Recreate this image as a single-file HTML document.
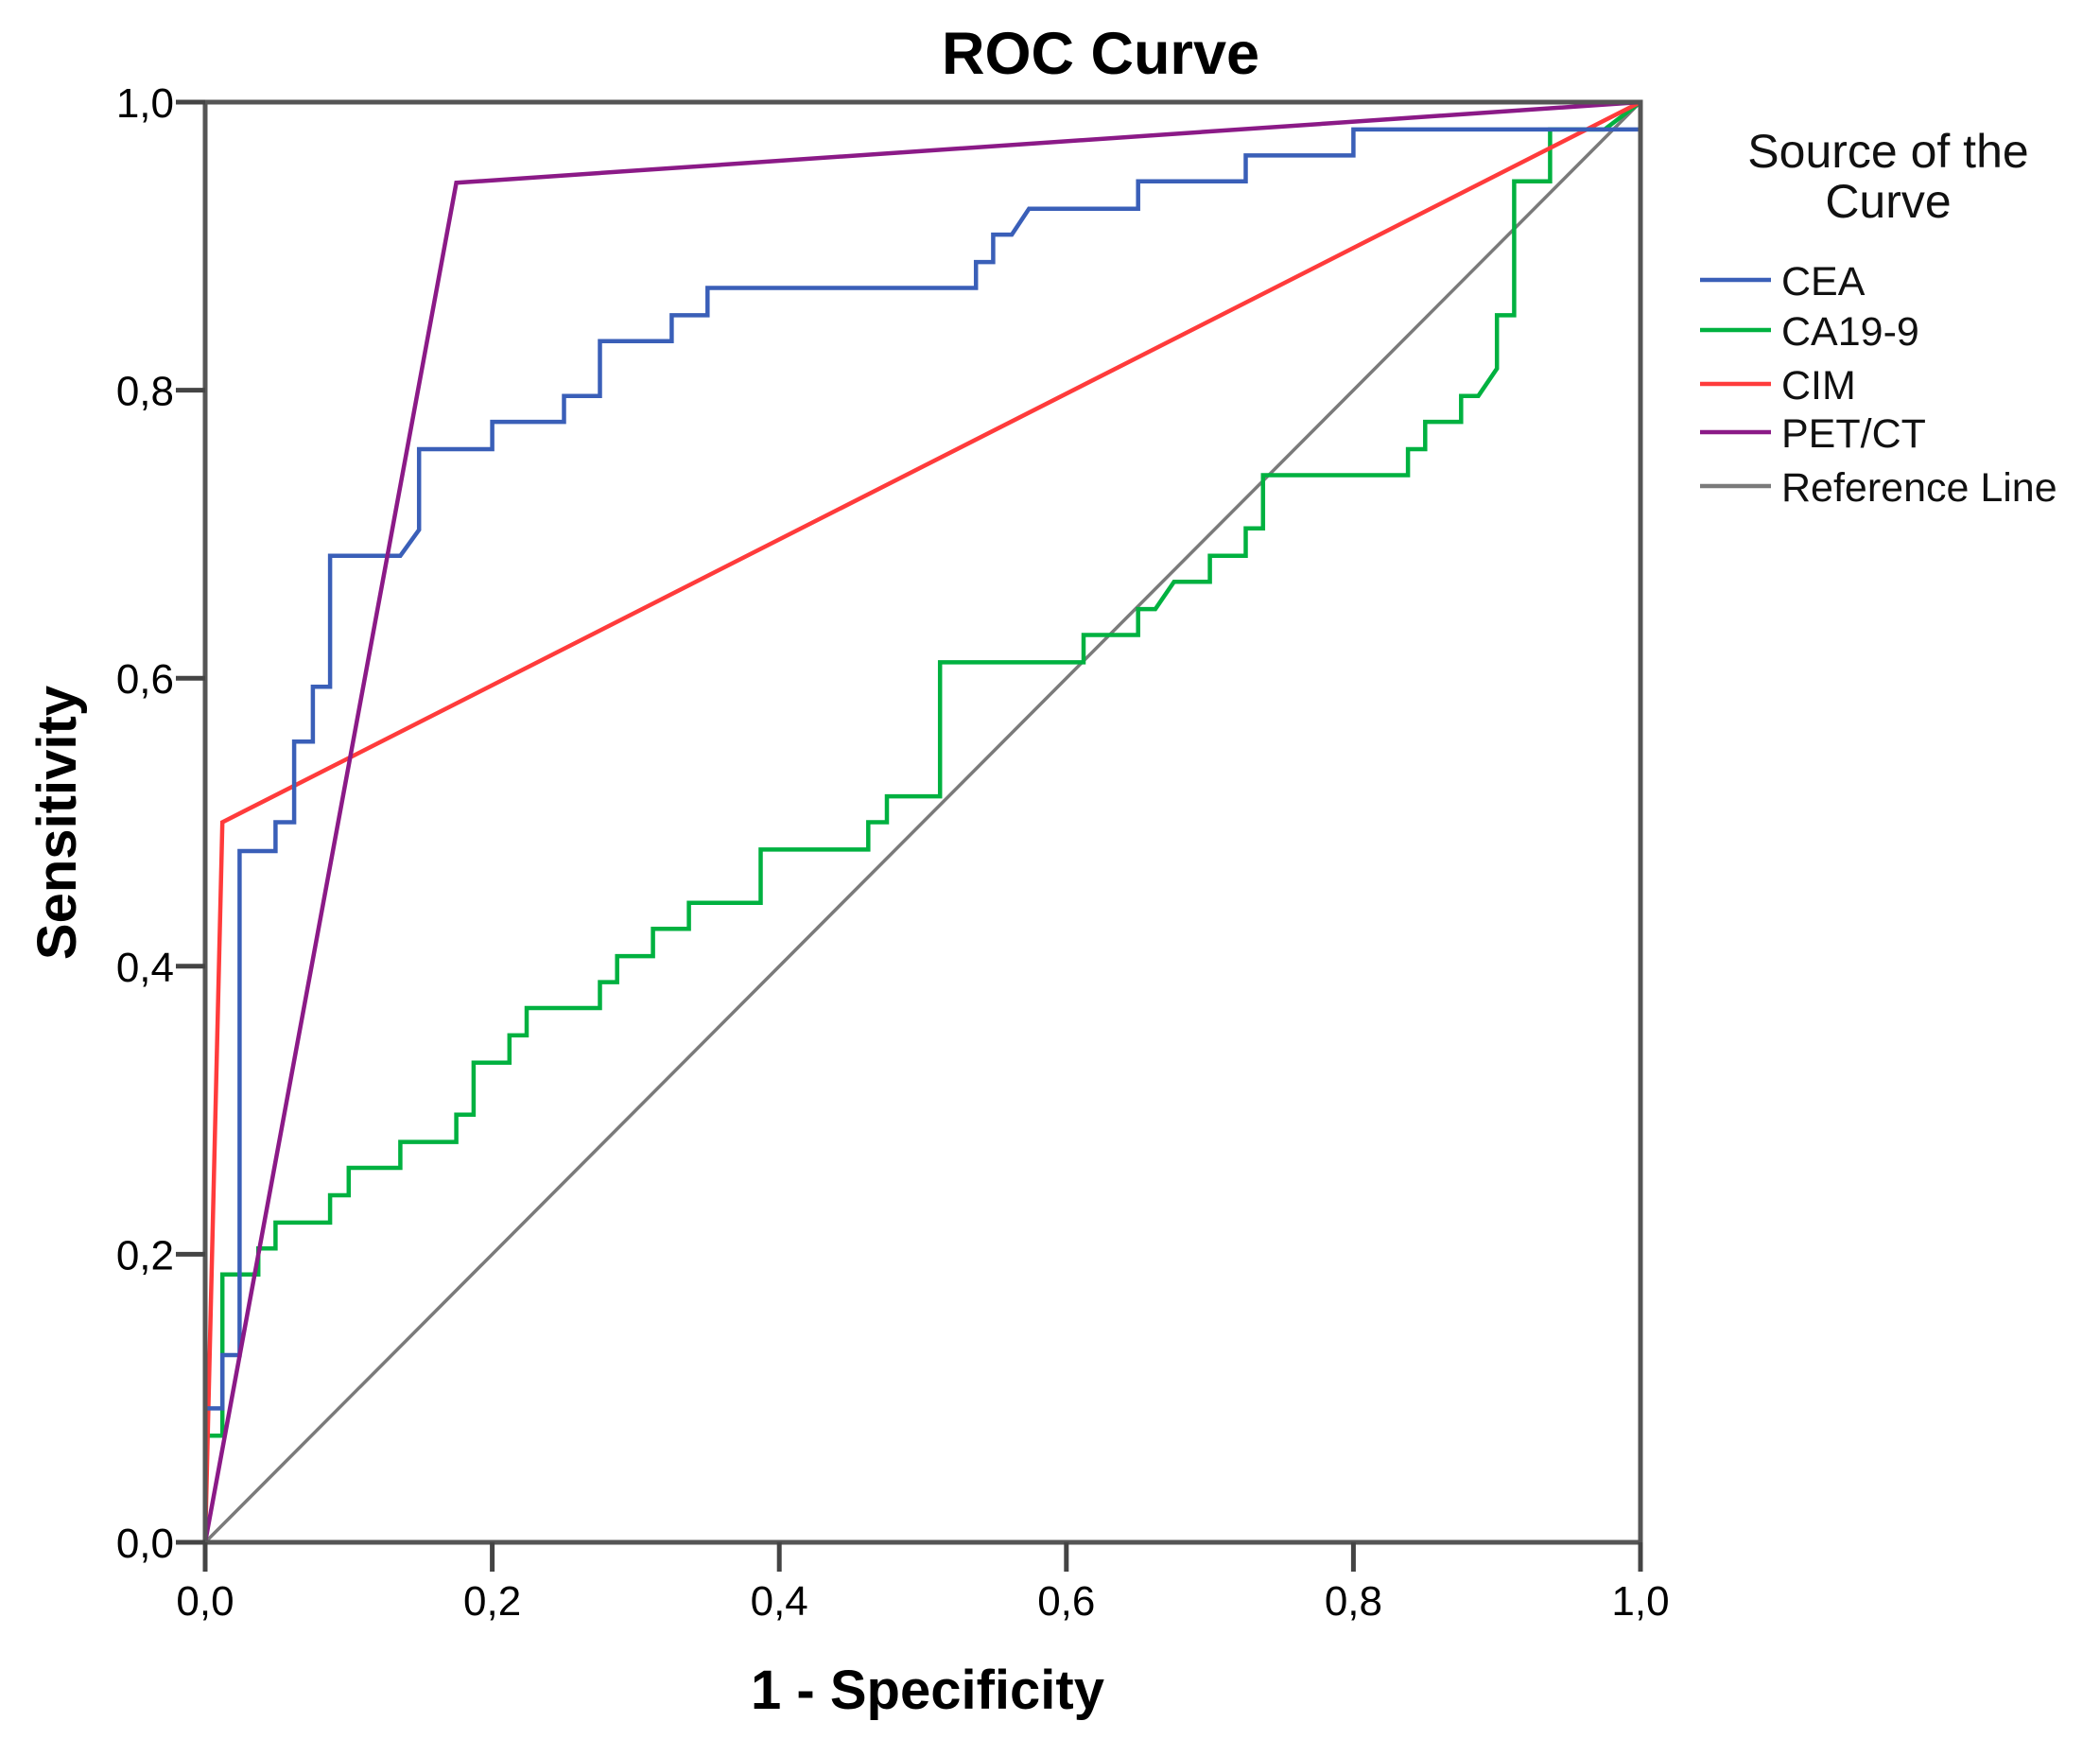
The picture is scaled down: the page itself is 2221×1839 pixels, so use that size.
<!DOCTYPE html>
<html><head><meta charset="utf-8"><style>
html,body{margin:0;padding:0;background:#fff;}
svg{display:block;font-family:"Liberation Sans",sans-serif;}
</style></head><body>
<svg id="chart" width="2221" height="1839" viewBox="0 0 2221 1839" xmlns="http://www.w3.org/2000/svg">
<rect width="2221" height="1839" fill="#fff"/>
<text x="1164" y="78" font-size="63" font-weight="bold" text-anchor="middle" fill="#000">ROC Curve</text>
<g id="plot"></g>
<g id="axes"></g>
<text x="981" y="1807" font-size="58" font-weight="bold" text-anchor="middle" fill="#000">1 - Specificity</text>
<text transform="translate(80,870) rotate(-90)" font-size="58" font-weight="bold" text-anchor="middle" fill="#000">Sensitivity</text>
<g id="legend">
<text x="1997" y="177" font-size="50" text-anchor="middle" fill="#111">Source of the</text>
<text x="1997" y="230" font-size="50" text-anchor="middle" fill="#111">Curve</text>
</g>
</svg>
<script>
const NS="http://www.w3.org/2000/svg";
const xTicks=[0,0.2,0.4,0.6,0.8,1.0];
const yTicks=[0,0.2,0.4,0.6,0.8,1.0];
const tickLabels=["0,0","0,2","0,4","0,6","0,8","1,0"];
const seriesNames=["CEA","CA19-9","CIM","PET/CT","Reference Line"];
const seriesColors=["#3a5fb8","#00b140","#ff3b3b","#8b1a87","#7a7a7a"];
const ceaX=[0,0,0.012,0.012,0.024,0.024,0.049,0.049,0.062,0.062,0.075,0.075,0.087,0.087,0.136,0.149,0.149,0.2,0.2,0.25,0.25,0.275,0.275,0.325,0.325,0.35,0.35,0.537,0.537,0.549,0.549,0.562,0.574,0.65,0.65,0.725,0.725,0.8,0.8,1.0,1.0];
const ceaY=[0,0.093,0.093,0.13,0.13,0.48,0.48,0.5,0.5,0.556,0.556,0.594,0.594,0.685,0.685,0.703,0.759,0.759,0.778,0.778,0.796,0.796,0.834,0.834,0.852,0.852,0.871,0.871,0.889,0.889,0.908,0.908,0.926,0.926,0.945,0.945,0.963,0.963,0.981,0.981,1.0];
const caX=[0,0,0.012,0.012,0.037,0.037,0.049,0.049,0.087,0.087,0.1,0.1,0.136,0.136,0.175,0.175,0.187,0.187,0.212,0.212,0.224,0.224,0.275,0.275,0.287,0.287,0.312,0.312,0.337,0.337,0.387,0.387,0.462,0.462,0.475,0.475,0.512,0.512,0.612,0.612,0.65,0.65,0.662,0.675,0.7,0.7,0.725,0.725,0.737,0.737,0.838,0.838,0.85,0.85,0.875,0.875,0.887,0.9,0.9,0.912,0.912,0.937,0.937,0.975,1.0];
const caY=[0,0.074,0.074,0.186,0.186,0.204,0.204,0.222,0.222,0.241,0.241,0.26,0.26,0.278,0.278,0.297,0.297,0.333,0.333,0.352,0.352,0.371,0.371,0.389,0.389,0.407,0.407,0.426,0.426,0.444,0.444,0.481,0.481,0.5,0.5,0.518,0.518,0.611,0.611,0.63,0.63,0.648,0.648,0.667,0.667,0.685,0.685,0.704,0.704,0.741,0.741,0.759,0.759,0.778,0.778,0.796,0.796,0.815,0.852,0.852,0.945,0.945,0.981,0.981,1.0];
const cimX=[0,0.012,1.0];
const cimY=[0,0.5,1.0];
const petX=[0,0.175,1.0];
const petY=[0,0.944,1.0];
const refX=[0,1];
const refY=[0,1];

const X0=217,X1=1735,Y0=1631,Y1=108;
function sx(v){return X0+v*(X1-X0);}
function sy(v){return Y0-v*(Y0-Y1);}
const plot=document.getElementById('plot');
const axes=document.getElementById('axes');

function line(xs,ys,color,name,w){
  const p=document.createElementNS(NS,'polyline');
  p.setAttribute('points',xs.map((x,i)=>sx(x).toFixed(1)+','+sy(ys[i]).toFixed(1)).join(' '));
  p.setAttribute('fill','none');p.setAttribute('stroke',color);p.setAttribute('stroke-width',w);
  p.setAttribute('stroke-linejoin','miter');
  
  
  plot.appendChild(p);
}
line(refX,refY,seriesColors[4],'reference-line',3.5);
line(caX,caY,seriesColors[1],'ca19-9-curve',4.5);
line(cimX,cimY,seriesColors[2],'cim-curve',4.5);
line(ceaX,ceaY,seriesColors[0],'cea-curve',4.5);
line(petX,petY,seriesColors[3],'pet-ct-curve',4.5);

const fr=document.createElementNS(NS,'rect');
fr.setAttribute('x',X0);fr.setAttribute('y',Y1);fr.setAttribute('width',X1-X0);fr.setAttribute('height',Y0-Y1);
fr.setAttribute('fill','none');fr.setAttribute('stroke','#555');fr.setAttribute('stroke-width',5);


axes.appendChild(fr);

xTicks.forEach((v,i)=>{
  const t=document.createElementNS(NS,'line');
  t.setAttribute('x1',sx(v));t.setAttribute('x2',sx(v));t.setAttribute('y1',Y0);t.setAttribute('y2',Y0+31);
  t.setAttribute('stroke','#444');t.setAttribute('stroke-width',5);
  
  
  axes.appendChild(t);
  const l=document.createElementNS(NS,'text');
  l.setAttribute('x',sx(v));l.setAttribute('y',1708);l.setAttribute('font-size',44);l.setAttribute('text-anchor','middle');
  l.textContent=tickLabels[i];
  
  
  axes.appendChild(l);
});
yTicks.forEach((v,i)=>{
  const t=document.createElementNS(NS,'line');
  t.setAttribute('x1',X0-31);t.setAttribute('x2',X0);t.setAttribute('y1',sy(v));t.setAttribute('y2',sy(v));
  t.setAttribute('stroke','#444');t.setAttribute('stroke-width',5);
  
  
  axes.appendChild(t);
  const l=document.createElementNS(NS,'text');
  l.setAttribute('x',184);l.setAttribute('y',sy(v)+16);l.setAttribute('font-size',44);l.setAttribute('text-anchor','end');
  l.textContent=tickLabels[i];
  
  
  axes.appendChild(l);
});

const legend=document.getElementById('legend');
const legY=[296,349,406,457,514];
seriesNames.forEach((n,i)=>{
  const g=document.createElementNS(NS,'g');
  
  
  const ln=document.createElementNS(NS,'line');
  ln.setAttribute('x1',1798);ln.setAttribute('x2',1873);ln.setAttribute('y1',legY[i]);ln.setAttribute('y2',legY[i]);
  ln.setAttribute('stroke',seriesColors[i]);ln.setAttribute('stroke-width',4.5);
  
  
  g.appendChild(ln);
  const tx=document.createElementNS(NS,'text');
  tx.setAttribute('x',1884);tx.setAttribute('y',legY[i]+16);tx.setAttribute('font-size',43);tx.setAttribute('fill','#111');
  tx.textContent=n;
  
  
  g.appendChild(tx);
  legend.appendChild(g);
});
</script>
</body></html>
